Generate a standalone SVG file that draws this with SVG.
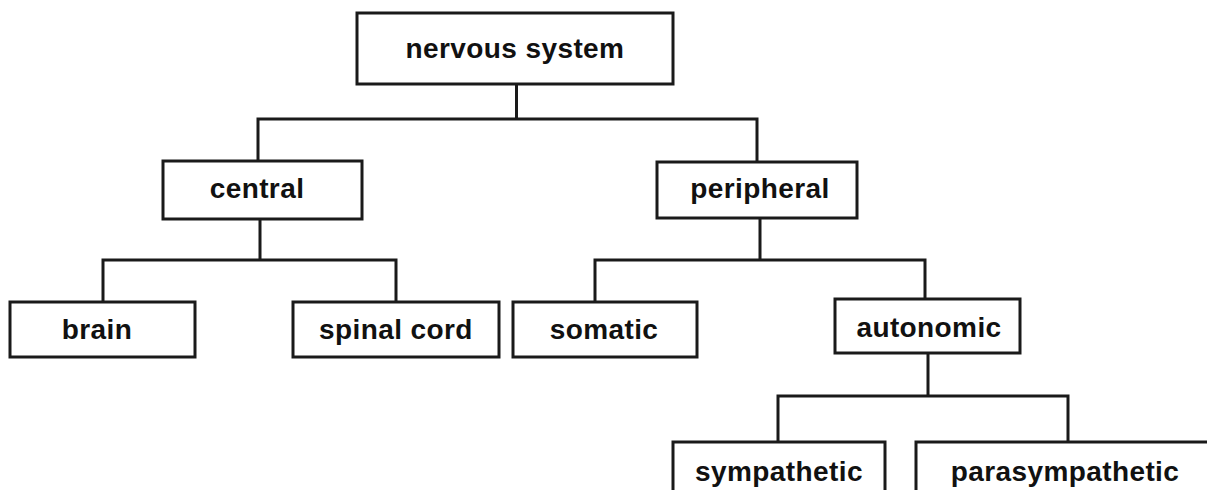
<svg xmlns="http://www.w3.org/2000/svg" width="1207" height="490" viewBox="0 0 1207 490">
<style>
.box{fill:#fff;stroke:#1a1a1a;stroke-width:3}
.lbl{font-family:"Liberation Sans",Arial,sans-serif;font-weight:bold;font-size:28px;letter-spacing:0.4px;fill:#111;text-anchor:middle}
.conn{fill:none;stroke:#1a1a1a;stroke-width:3}
</style>
<rect width="1207" height="490" fill="#fff"/>
<g id="connectors">
<path class="conn" d="M516.5 84V119M258 161V119H757V162"/>
<path class="conn" d="M260 219V260M103 302V260H396V302"/>
<path class="conn" d="M760 218V260M595 302V260H925V299"/>
<path class="conn" d="M928 353V396M778 442V396H1068V442"/>
</g>
<g id="n-nervous"><rect class="box" x="357" y="13" width="316" height="71"/><text class="lbl" x="515" y="58">nervous system</text></g>
<g id="n-central"><rect class="box" x="163" y="161" width="199" height="58"/><text class="lbl" x="257" y="198">central</text></g>
<g id="n-peripheral"><rect class="box" x="657" y="162" width="200" height="56"/><text class="lbl" x="760" y="198">peripheral</text></g>
<g id="n-brain"><rect class="box" x="10" y="302" width="185" height="55"/><text class="lbl" x="97" y="339">brain</text></g>
<g id="n-spinal"><rect class="box" x="293" y="302" width="206" height="55"/><text class="lbl" x="396" y="339">spinal cord</text></g>
<g id="n-somatic"><rect class="box" x="513" y="302" width="184" height="55"/><text class="lbl" x="604" y="339">somatic</text></g>
<g id="n-autonomic"><rect class="box" x="835" y="299" width="185" height="54"/><text class="lbl" x="929" y="337">autonomic</text></g>
<g id="n-sympathetic"><rect class="box" x="673" y="442" width="212" height="60"/><text class="lbl" x="779" y="481">sympathetic</text></g>
<g id="n-parasympathetic"><rect class="box" x="916" y="442" width="300" height="60"/><text class="lbl" x="1065" y="481">parasympathetic</text></g>
</svg>
